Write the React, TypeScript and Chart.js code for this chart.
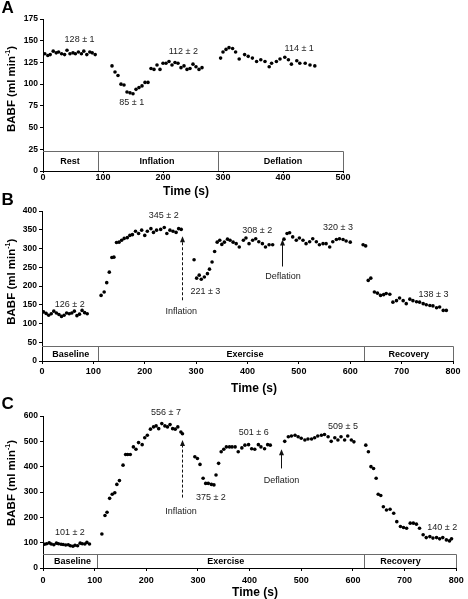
import React, { useEffect, useRef } from "react";
import { Chart, registerables } from "chart.js";

Chart.register(...registerables);

const FONT = "'Liberation Sans', Arial, Helvetica, sans-serif";
const W = 468;

// ---------------- Panel A ----------------
const aTime = [
  3, 8, 12, 17, 22, 26, 31, 36, 40, 45, 50, 54, 59, 64, 68, 73, 78, 82, 87,
  115, 120, 125, 130, 135, 140, 145, 150, 155, 160, 165, 170, 175, 180, 185, 190, 195, 200, 205, 210,
  215, 220, 225, 230, 235, 240, 245, 250, 255, 260, 265,
  296, 300, 305, 310, 316, 321, 327, 336, 342, 349, 356, 363, 370, 377, 381, 389, 395, 403, 409, 414,
  423, 428, 437, 445, 453,
];
const aFlow = [
  135, 133, 134, 138, 136, 137, 135, 134, 139, 135, 136, 135, 137, 135, 138, 134, 137, 136, 134,
  121, 114, 110, 100, 99, 91, 90, 89, 94, 96, 98, 102, 102, 118, 117, 122, 117, 124, 124, 126,
  122, 125, 124, 119, 121, 117, 118, 123, 120, 117, 119,
  130, 137, 140, 142, 141, 137, 129, 134, 132, 130, 126, 128, 126, 120, 124, 126, 129, 131, 128, 123,
  127, 124, 124, 122, 121,
];
const aPhases = ["Rest", "Inflation", "Deflation"];
const aPhaseEdges = [0, 91, 292, 500];
const aPhaseLabelAt = [45, 190, 400];
const aBarTop = 23;
const aNotes = ["128 ± 1", "85 ± 1", "112 ± 2", "114 ± 1"];
const aNoteX = [61, 148, 234, 427];
const aNoteY = [151, 79, 138, 140.5];
const aArrowX: number[] = [];
const aArrowFrom: number[] = [];
const aArrowTo: number[] = [];
const aArrowDashed: boolean[] = [];

// ---------------- Panel B ----------------
const bTime = [
  3, 8, 13, 18, 23, 28, 33, 38, 43, 48, 53, 58, 63, 68, 73, 78, 83, 88,
  115, 121, 126, 131, 136, 140, 145, 150, 155, 160, 166, 171, 176, 182, 188, 194, 200, 205, 212, 217,
  223, 231, 238, 243, 249, 255, 261, 266, 271,
  296, 301, 306, 310, 316, 322, 326, 331, 336, 341, 346, 350, 355, 361, 366, 372, 378, 384, 392, 397,
  403, 410, 416, 422, 429, 435, 442, 449,
  471, 477, 482, 488, 495, 501, 508, 514, 521, 527, 534, 540, 547, 553, 560, 566, 573, 579, 586, 592,
  600, 625, 630,
  635, 640, 647, 653, 659, 665, 670, 677, 683, 690, 696, 703, 709, 716, 722, 729, 735, 742, 748, 755,
  761, 768, 774, 781, 787,
];
const bFlow = [
  131, 127, 122, 126, 133, 128, 124, 119, 122, 128, 126, 128, 133, 121, 125, 135, 129, 126,
  175, 184, 209, 237, 276, 277, 316, 317, 322, 327, 329, 335, 337, 346, 340, 349, 335, 346, 353, 343,
  349, 351, 356, 340, 349, 346, 343, 353, 351,
  270, 221, 229, 218, 224, 233, 245, 264, 292, 317, 322, 311, 317, 325, 322, 317, 313, 304, 322, 328,
  313, 322, 326, 318, 313, 304, 310, 310,
  325, 340, 342, 331, 322, 328, 322, 313, 318, 326, 318, 310, 313, 313, 304, 318, 324, 326, 324, 320,
  317, 310, 307,
  215, 221, 184, 181, 175, 177, 180, 178, 157, 161, 168, 161, 153, 165, 161, 158, 157, 153, 150, 148,
  147, 142, 144, 135, 135,
];
const bPhases = ["Baseline", "Exercise", "Recovery"];
const bPhaseEdges = [0, 109, 627, 800];
const bPhaseLabelAt = [56, 395, 714];
const bBarTop = 40;
const bNotes = ["126 ± 2", "345 ± 2", "221 ± 3", "Inflation", "308 ± 2", "Deflation", "320 ± 3", "138 ± 3"];
const bNoteX = [54, 237, 318, 271, 419, 469, 576, 762];
const bNoteY = [151, 387, 184, 132, 348, 224, 355, 178];
const bArrowX = [272, 468];
const bArrowFrom = [162, 252];
const bArrowTo = [333, 324];
const bArrowDashed = [true, false];

// ---------------- Panel C ----------------
const cTime = [
  3, 7, 12, 16, 21, 26, 30, 35, 39, 44, 49, 53, 58, 62, 67, 72, 76, 81, 85, 90,
  114, 120, 124, 129, 134, 139, 143, 148, 155, 160, 164, 169, 175, 180, 185, 192, 197, 202, 208, 214,
  219, 224, 230, 236, 241, 246, 251, 256, 261, 267, 270,
  294, 299, 304, 310, 315, 320, 326, 331, 335, 340, 345, 350, 355, 361, 366, 372, 378, 385, 391, 398,
  404, 410, 417, 422, 429, 435, 440,
  468, 475, 481, 488, 494, 500, 507, 513, 520, 526, 532, 539, 545, 552, 558, 565, 571, 577, 584, 590,
  597, 602,
  625, 630, 635, 640, 645, 649, 654, 659, 665, 672, 679, 685, 692, 698, 704, 711, 717, 723, 729, 736,
  742, 749, 755, 762, 768, 774, 781, 787, 791,
];
const cFlow = [
  94, 96, 99, 95, 92, 98, 96, 94, 93, 91, 92, 88, 86, 90, 88, 98, 96, 95, 101, 95,
  134, 207, 220, 275, 291, 297, 330, 345, 406, 448, 448, 448, 478, 469, 495, 487, 514, 524, 548, 557,
  561, 550, 570, 561, 557, 566, 550, 548, 557, 537, 530,
  439, 432, 409, 354, 334, 334, 330, 328, 367, 413, 459, 469, 478, 478, 478, 478, 459, 474, 485, 487,
  471, 469, 487, 478, 471, 487, 485,
  500, 518, 521, 524, 518, 512, 505, 509, 509, 514, 521, 524, 527, 518, 500, 514, 505, 518, 505, 521,
  505, 498,
  485, 459, 400, 393, 354, 291, 286, 242, 229, 232, 216, 183, 164, 160, 157, 177, 177, 173, 157, 131,
  120, 124, 118, 120, 115, 120, 111, 107, 115,
];
const cPhases = ["Baseline", "Exercise", "Recovery"];
const cPhaseEdges = [0, 104, 621, 800];
const cPhaseLabelAt = [57, 354, 692];
const cBarTop = 55;
const cNotes = ["101 ± 2", "556 ± 7", "375 ± 2", "Inflation", "501 ± 6", "Deflation", "509 ± 5", "140 ± 2"];
const cNoteX = [52, 238, 325, 267, 408, 462, 581, 773];
const cNoteY = [140, 612, 278, 223, 535, 347, 557, 159];
const cArrowX = [270, 461];
const cArrowFrom = [278, 393];
const cArrowTo = [505, 469];
const cArrowDashed = [true, false];

type Spec = {
  letter: string;
  canvasTop: number;
  canvasHeight: number;
  area: { left: number; top: number; right: number; bottom: number };
  xMax: number;
  yMax: number;
  yStep: number;
  time: number[];
  flow: number[];
  phases: string[];
  phaseEdges: number[];
  phaseLabelAt: number[];
  barTop: number;
  notes: string[];
  noteX: number[];
  noteY: number[];
  arrowX: number[];
  arrowFrom: number[];
  arrowTo: number[];
  arrowDashed: boolean[];
  xTickLen: number;
  xTickPad: number;
  yTitleAt: [number, number];
  xTitleAt: [number, number];
  letterY: number;
};

const specs: Spec[] = [
  {
    letter: "A", canvasTop: 0, canvasHeight: 199,
    area: { left: 43, top: 19, right: 343, bottom: 171 },
    xMax: 500, yMax: 175, yStep: 25,
    time: aTime, flow: aFlow,
    phases: aPhases, phaseEdges: aPhaseEdges, phaseLabelAt: aPhaseLabelAt, barTop: aBarTop,
    notes: aNotes, noteX: aNoteX, noteY: aNoteY,
    arrowX: aArrowX, arrowFrom: aArrowFrom, arrowTo: aArrowTo, arrowDashed: aArrowDashed,
    xTickLen: 2, xTickPad: -1,
    yTitleAt: [12, 89], xTitleAt: [186, 191.7], letterY: 8,
  },
  {
    letter: "B", canvasTop: 190, canvasHeight: 210,
    area: { left: 42, top: 211, right: 453, bottom: 361 },
    xMax: 800, yMax: 400, yStep: 50,
    time: bTime, flow: bFlow,
    phases: bPhases, phaseEdges: bPhaseEdges, phaseLabelAt: bPhaseLabelAt, barTop: bBarTop,
    notes: bNotes, noteX: bNoteX, noteY: bNoteY,
    arrowX: bArrowX, arrowFrom: bArrowFrom, arrowTo: bArrowTo, arrowDashed: bArrowDashed,
    xTickLen: 3, xTickPad: 2.3,
    yTitleAt: [11.7, 281.7], xTitleAt: [254, 388.3], letterY: 200,
  },
  {
    letter: "C", canvasTop: 392, canvasHeight: 207,
    area: { left: 43, top: 416, right: 459, bottom: 568 },
    xMax: 800, yMax: 600, yStep: 100,
    time: cTime, flow: cFlow,
    phases: cPhases, phaseEdges: cPhaseEdges, phaseLabelAt: cPhaseLabelAt, barTop: cBarTop,
    notes: cNotes, noteX: cNoteX, noteY: cNoteY,
    arrowX: cArrowX, arrowFrom: cArrowFrom, arrowTo: cArrowTo, arrowDashed: cArrowDashed,
    xTickLen: 3, xTickPad: 4.3,
    yTitleAt: [11.7, 483], xTitleAt: [255, 592.5], letterY: 404,
  },
];

function makeOverlay(s: Spec) {
  return {
    id: "overlay" + s.letter,
    afterDraw(chart: any) {
      const ctx: CanvasRenderingContext2D = chart.ctx;
      const xs = chart.scales.x;
      const ys = chart.scales.y;
      const X = (v: number) => xs.getPixelForValue(v);
      const Y = (v: number) => ys.getPixelForValue(v);
      const top = s.canvasTop;
      ctx.save();

      // phase bar
      const yb = Y(0);
      const yt = Math.round(Y(s.barTop)) + 0.5;
      const edges = s.phaseEdges;
      ctx.strokeStyle = "#6a6a6a";
      ctx.lineWidth = 1;
      ctx.beginPath();
      ctx.moveTo(X(edges[0]), yt);
      ctx.lineTo(Math.round(X(edges[edges.length - 1])) + 0.5, yt);
      for (let i = 1; i < edges.length; i++) {
        const px = Math.round(X(edges[i])) + 0.5;
        ctx.moveTo(px, yt);
        ctx.lineTo(px, yb);
      }
      ctx.stroke();
      ctx.fillStyle = "#000";
      ctx.font = `bold 9px ${FONT}`;
      ctx.textAlign = "center";
      ctx.textBaseline = "middle";
      s.phases.forEach((p, i) => ctx.fillText(p, X(s.phaseLabelAt[i]), (yt + yb) / 2 + 0.5));

      // value notes
      ctx.font = `9px ${FONT}`;
      ctx.fillStyle = "#222";
      s.notes.forEach((n, i) => ctx.fillText(n, X(s.noteX[i]), Y(s.noteY[i])));

      // arrows
      s.arrowX.forEach((ax, i) => {
        const px = Math.round(X(ax)) + 0.5;
        const y1 = Y(s.arrowFrom[i]);
        const y2 = Y(s.arrowTo[i]);
        ctx.strokeStyle = "#111";
        ctx.fillStyle = "#111";
        ctx.lineWidth = 1;
        ctx.setLineDash(s.arrowDashed[i] ? [3, 2] : []);
        ctx.beginPath();
        ctx.moveTo(px, y1);
        ctx.lineTo(px, y2 + 5);
        ctx.stroke();
        ctx.setLineDash([]);
        ctx.beginPath();
        ctx.moveTo(px, y2);
        ctx.lineTo(px - 2.5, y2 + 6);
        ctx.lineTo(px + 2.5, y2 + 6);
        ctx.closePath();
        ctx.fill();
      });

      // axis titles
      ctx.fillStyle = "#000";
      ctx.textAlign = "center";
      ctx.textBaseline = "middle";
      ctx.font = `bold 12px ${FONT}`;
      ctx.fillText("Time (s)", s.xTitleAt[0], s.xTitleAt[1] - top);

      ctx.save();
      ctx.translate(s.yTitleAt[0], s.yTitleAt[1] - top);
      ctx.rotate(-Math.PI / 2);
      const mainFont = `bold 11.5px ${FONT}`;
      const supFont = `bold 7px ${FONT}`;
      const p1 = "BABF (ml min";
      const sup = "-1";
      const p2 = ")";
      ctx.font = mainFont;
      const w1 = ctx.measureText(p1).width;
      const w3 = ctx.measureText(p2).width;
      ctx.font = supFont;
      const w2 = ctx.measureText(sup).width;
      let x0 = -(w1 + w2 + w3) / 2;
      ctx.textAlign = "left";
      ctx.font = mainFont;
      ctx.fillText(p1, x0, 0);
      x0 += w1;
      ctx.font = supFont;
      ctx.fillText(sup, x0, -3.5);
      x0 += w2;
      ctx.font = mainFont;
      ctx.fillText(p2, x0, 0);
      ctx.restore();

      // panel letter
      ctx.font = `bold 17px ${FONT}`;
      ctx.textAlign = "left";
      ctx.textBaseline = "middle";
      ctx.fillText(s.letter, 1.5, s.letterY - top);

      ctx.restore();
    },
  };
}

function Panel({ s }: { s: Spec }) {
  const ref = useRef<HTMLCanvasElement>(null);
  useEffect(() => {
    if (!ref.current) return;
    const tickFont = { family: FONT, size: 9, weight: "bold" as const };
    const chart = new Chart(ref.current, {
      type: "scatter",
      data: {
        datasets: [
          {
            data: s.time.map((t, i) => ({ x: t, y: s.flow[i] })),
            pointRadius: 1.8,
            pointBackgroundColor: "#000",
            pointBorderColor: "#000",
            pointBorderWidth: 0,
            showLine: false,
          },
        ],
      },
      options: {
        responsive: false,
        animation: false,
        events: [],
        layout: {
          padding: {
            left: 0,
            top: s.area.top - s.canvasTop,
            right: W - s.area.right,
            bottom: 0,
          },
        },
        plugins: {
          legend: { display: false },
          tooltip: { enabled: false },
        },
        scales: {
          x: {
            type: "linear",
            min: 0,
            max: s.xMax,
            afterFit: (sc: any) => {
              sc.height = s.canvasTop + s.canvasHeight - s.area.bottom;
            },
            ticks: {
              stepSize: 100,
              autoSkip: false,
              maxRotation: 0,
              color: "#000",
              font: tickFont,
              padding: s.xTickPad,
            },
            grid: { drawOnChartArea: false, drawTicks: true, tickLength: s.xTickLen, color: "#000" },
            border: { display: true, color: "#000", width: 1 },
          },
          y: {
            type: "linear",
            min: 0,
            max: s.yMax,
            afterFit: (sc: any) => {
              sc.width = s.area.left;
            },
            ticks: {
              stepSize: s.yStep,
              autoSkip: false,
              color: "#000",
              font: { family: FONT, size: 8.5, weight: "bold" as const },
              padding: 2,
            },
            grid: { drawOnChartArea: false, drawTicks: true, tickLength: 3, color: "#000" },
            border: { display: true, color: "#000", width: 1 },
          },
        },
      } as any,
      plugins: [makeOverlay(s)],
    });
    return () => chart.destroy();
  }, [s]);
  return (
    <canvas
      ref={ref}
      width={W}
      height={s.canvasHeight}
      style={{ position: "absolute", left: 0, top: s.canvasTop, width: W, height: s.canvasHeight }}
    />
  );
}

export default function App() {
  return (
    <div style={{ position: "absolute", left: 0, top: 0, width: W, height: 599, background: "#fff", overflow: "hidden" }}>
      {specs.map((s) => (
        <Panel key={s.letter} s={s} />
      ))}
    </div>
  );
}
